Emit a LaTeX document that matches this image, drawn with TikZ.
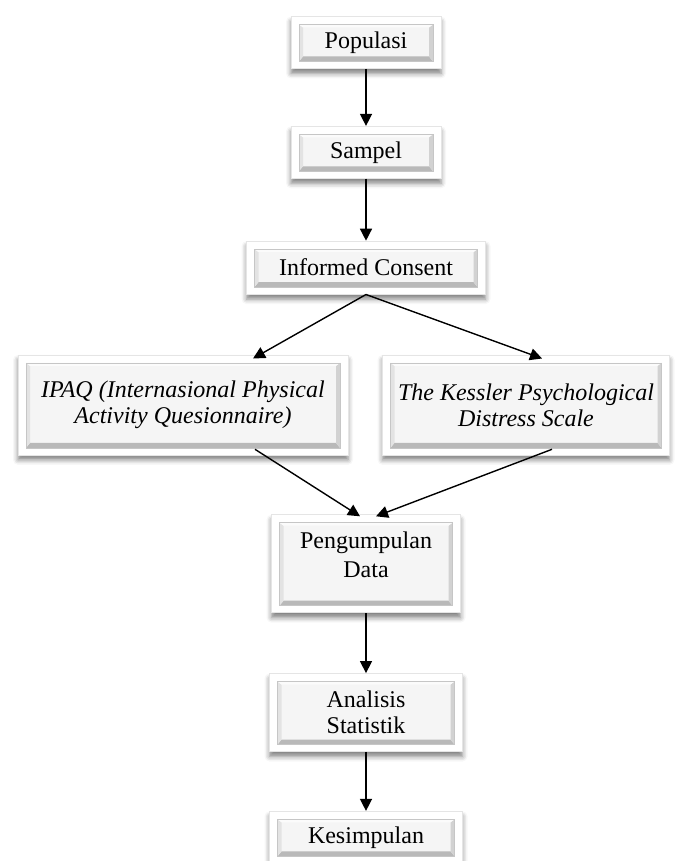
\documentclass[tikz,border=0pt]{standalone}
\usepackage{fontspec}
\setmainfont{Liberation Serif}
\usetikzlibrary{arrows.meta, positioning, calc, shadows.blur}

\begin{document}
\begin{tikzpicture}[
        node distance=29.5pt,
        box/.style={rectangle, draw=gray!20, fill=white, line width=0.4pt,
            blur shadow={shadow xshift=0pt, shadow yshift=-2.5pt, shadow blur radius=2.5pt, shadow opacity=50},
            minimum width=75pt, minimum height=26pt, inner sep=0pt, align=center,
            font=\fontsize{12}{13}\selectfont,
            path picture={
                \path ([shift={(4pt,3.5pt)}]path picture bounding box.south west) coordinate (bsw)
                      ([shift={(-4pt,-4pt)}]path picture bounding box.north east) coordinate (bne);
                \fill[gray!8] (bsw) rectangle (bne);
                \fill[gray!55] (bsw) -- (bsw -| bne) -- ($(bsw -| bne)+(-2pt,2.5pt)$) -- ($(bsw)+(2pt,2.5pt)$) -- cycle;
                \fill[gray!35] (bsw -| bne) -- (bne) -- ($(bne)+(-2pt,-1.5pt)$) -- ($(bsw -| bne)+(-2pt,2.5pt)$) -- cycle;
                \fill[gray!22] (bsw) -- (bne -| bsw) -- ($(bne -| bsw)+(2pt,-1.5pt)$) -- ($(bsw)+(2pt,2.5pt)$) -- cycle;
                \fill[gray!3] (bne -| bsw) -- (bne) -- ($(bne)+(-2pt,-1.5pt)$) -- ($(bne -| bsw)+(2pt,-1.5pt)$) -- cycle;
                \draw[gray!45, line width=0.3pt] (bsw) rectangle (bne);
            }},
        arrow/.style={-{Triangle[length=6pt,width=6pt]}, line width=0.7pt}
    ]
    \useasboundingbox (0,0) rectangle (340.5pt,-430.5pt);

    \node (populasi) [box] at (183pt,-21.25pt) {Populasi};
    \node (sampel) [box, below=28.5pt of populasi] {Sampel};
    \node (consent) [box, below=31pt of sampel, minimum width=119.5pt, minimum height=26.5pt] {Informed Consent};

    \node (ipaq) [box, below=30pt of consent, xshift=-91.5pt, minimum width=165pt, minimum height=50pt] {\itshape IPAQ (Internasional Physical\\\itshape Activity Quesionnaire)};
    \node (kessler) [box, below=30pt of consent, xshift=80pt, minimum width=143.5pt, minimum height=50pt] {\itshape The Kessler Psychological\\\itshape Distress Scale};

    \node (data) [box, below=29.5pt of ipaq.south -| consent.south, minimum width=94.5pt, minimum height=49pt, text depth=9pt, font=\fontsize{12}{14.5}\selectfont] {Pengumpulan\\Data};
    \node (analisis) [box, below=30pt of data, minimum width=96.5pt, minimum height=39pt] {Analisis\\Statistik};
    \node (kesimpulan) [box, below=of analisis, minimum width=96.5pt] {Kesimpulan};

    \draw [arrow] (populasi) -- (sampel);
    \draw [arrow] (sampel) -- (consent);
    \draw [arrow] (consent.south) -- ([xshift=35pt,yshift=-2pt]ipaq.north);
    \draw [arrow] (consent.south) -- ([xshift=8pt,yshift=-2pt]kessler.north);
    \draw [arrow] ([xshift=36pt,yshift=3pt]ipaq.south) -- ([xshift=-3pt,yshift=-1pt]data.north);
    \draw [arrow] ([xshift=13pt,yshift=3pt]kessler.south) -- ([xshift=5pt,yshift=-1pt]data.north);
    \draw [arrow] (data) -- (analisis);
    \draw [arrow] (analisis) -- (kesimpulan);

\end{tikzpicture}
\end{document}
